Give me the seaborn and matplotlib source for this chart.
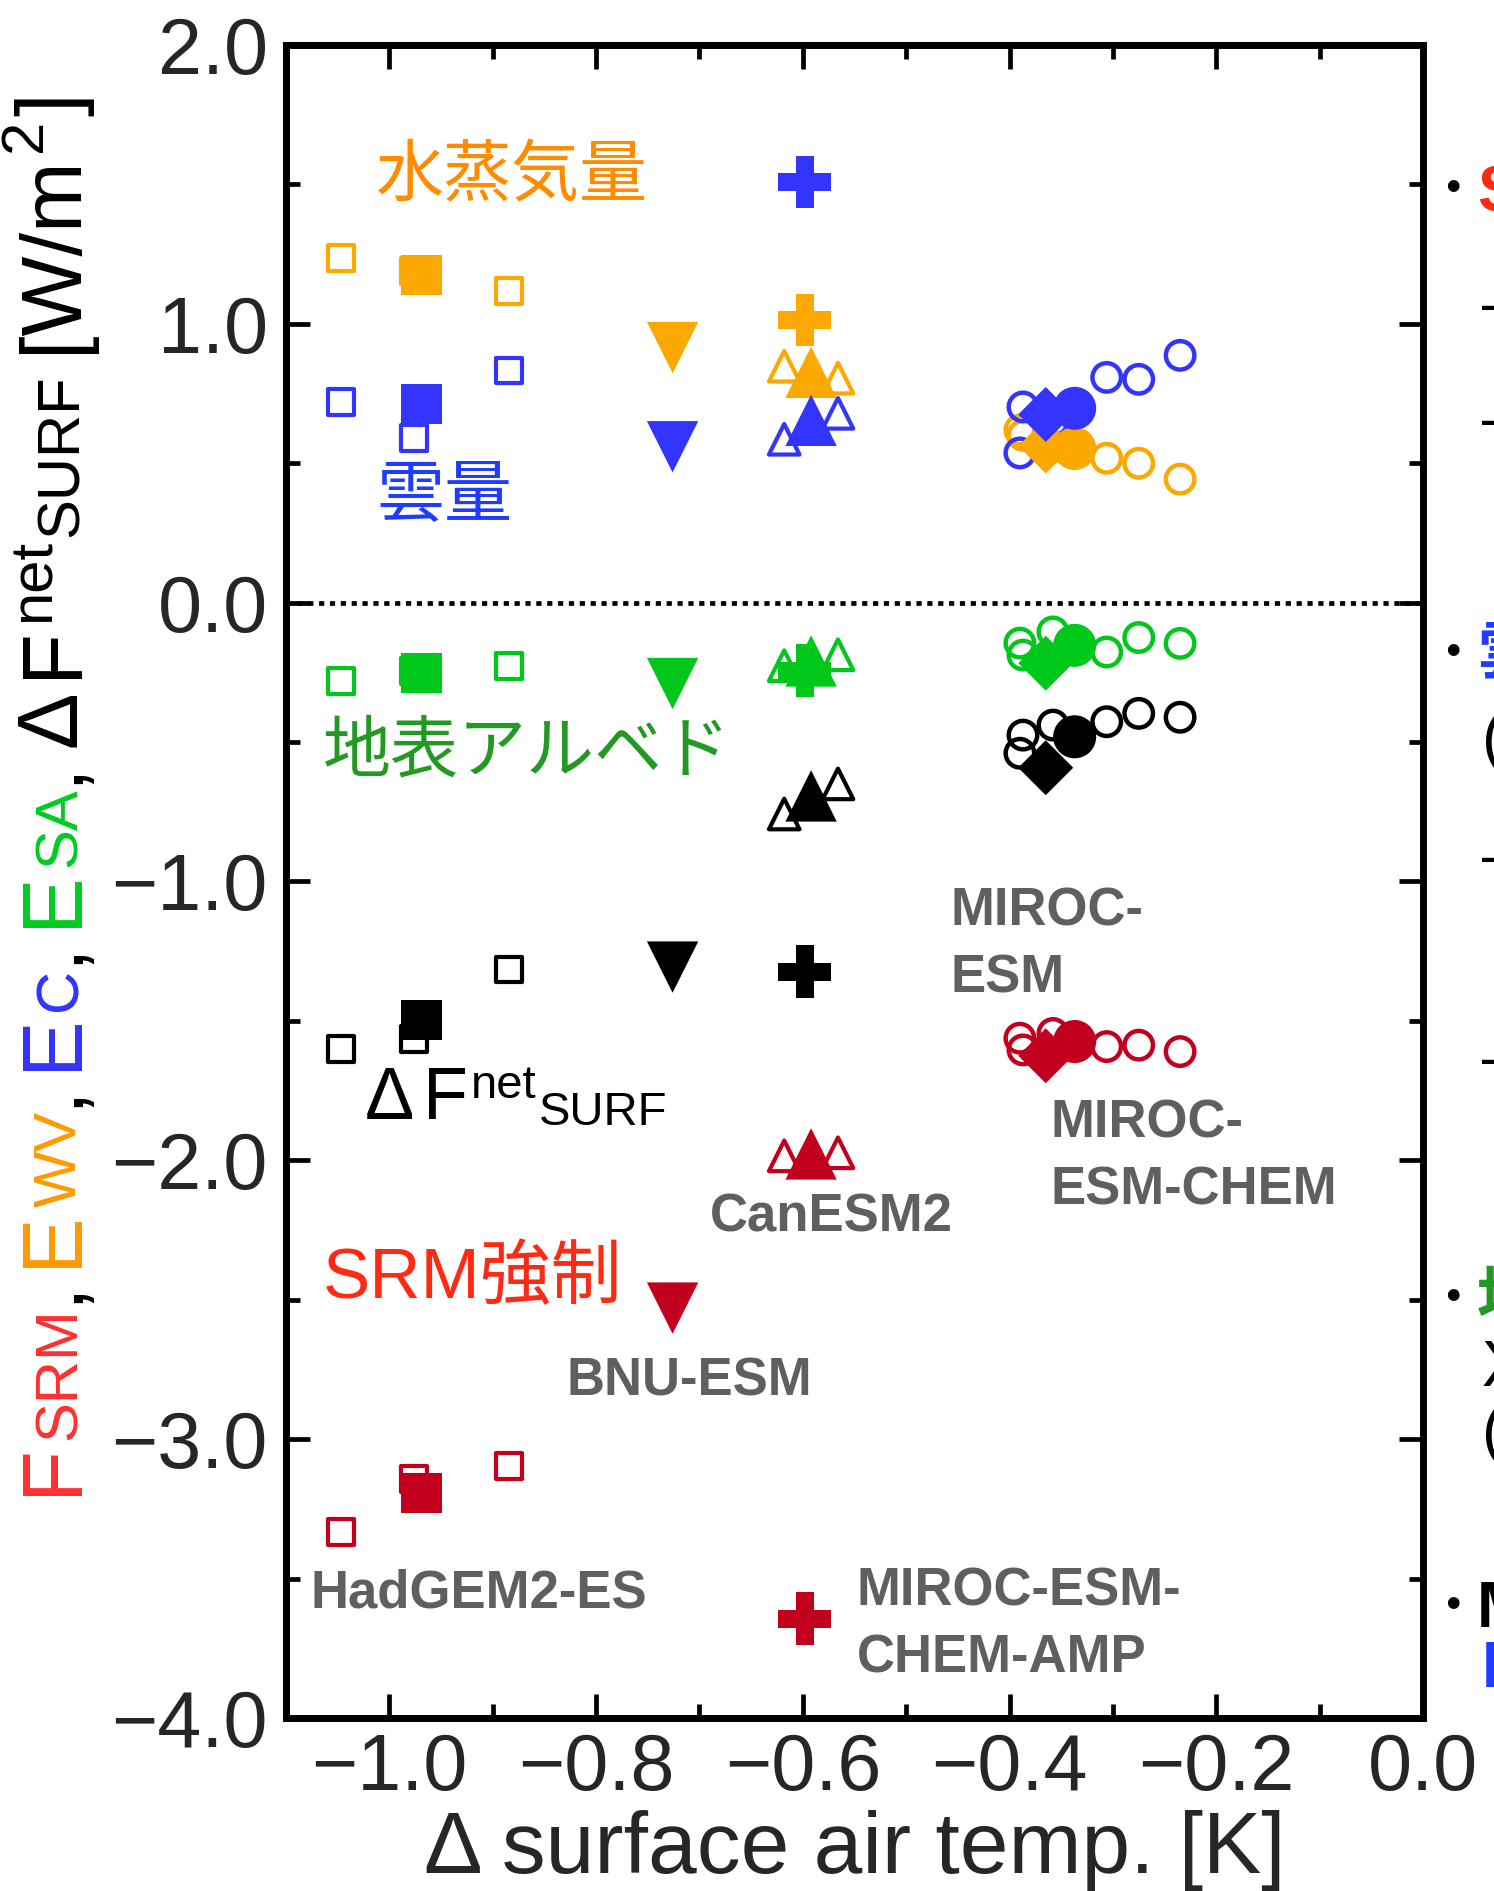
import numpy as np
import pandas as pd
import matplotlib
matplotlib.use("Agg")
import matplotlib.pyplot as plt
import seaborn as sns
from matplotlib.ticker import MultipleLocator

# ---------------- data ----------------
VARIABLES = ["SRM", "WV", "C", "SA", "NET"]

HADGEM_T_MEAN = -0.969
HADGEM_MEAN = [-3.192, 1.174, 0.712, -0.252, -1.497]
HADGEM_T_RUNS = [-1.047, -0.976, -0.884]
HADGEM_SRM_RUNS = [-3.334, -3.144, -3.097]
HADGEM_WV_RUNS = [1.235, 1.190, 1.118]
HADGEM_C_RUNS = [0.720, 0.591, 0.833]
HADGEM_SA_RUNS = [-0.282, -0.245, -0.226]
HADGEM_NET_RUNS = [-1.601, -1.566, -1.316]

BNU_T_MEAN = -0.726
BNU_MEAN = [-2.530, 0.915, 0.559, -0.290, -1.307]

CAN_T_MEAN = -0.592
CAN_MEAN = [-1.977, 0.826, 0.654, -0.209, -0.693]
CAN_T_RUNS = [-0.618, -0.566]
CAN_SRM_RUNS = [-1.984, -1.973]
CAN_WV_RUNS = [0.848, 0.805]
CAN_C_RUNS = [0.586, 0.679]
CAN_SA_RUNS = [-0.226, -0.187]
CAN_NET_RUNS = [-0.758, -0.650]

AMP_T_MEAN = -0.598
AMP_MEAN = [-3.644, 1.014, 1.509, -0.244, -1.324]

ESM_T_MEAN = -0.337
ESM_MEAN = [-1.574, 0.553, 0.697, -0.153, -0.481]

CHEM_T_MEAN = -0.365
CHEM_MEAN = [-1.625, 0.562, 0.675, -0.217, -0.592]

MIROC_T_RUNS = [-0.390, -0.387, -0.358, -0.306, -0.275, -0.235]
MIROC_SRM_RUNS = [-1.562, -1.604, -1.545, -1.592, -1.587, -1.610]
MIROC_WV_RUNS = [0.619, 0.600, 0.560, 0.518, 0.500, 0.443]
MIROC_C_RUNS = [0.537, 0.702, 0.650, 0.808, 0.801, 0.887]
MIROC_SA_RUNS = [-0.145, -0.188, -0.105, -0.177, -0.125, -0.146]
MIROC_NET_RUNS = [-0.540, -0.475, -0.439, -0.427, -0.397, -0.411]

X_TICKS = [-1.0, -0.8, -0.6, -0.4, -0.2, 0.0]
X_TICK_LABELS = ["\u22121.0", "\u22120.8", "\u22120.6", "\u22120.4", "\u22120.2", "0.0"]
Y_TICKS = [2.0, 1.0, 0.0, -1.0, -2.0, -3.0, -4.0]
Y_TICK_LABELS = ["2.0", "1.0", "0.0", "\u22121.0", "\u22122.0", "\u22123.0", "\u22124.0"]

# ---------------- long table ----------------
rows = []


def add_mean(model, t, vals):
    for var, val in zip(VARIABLES, vals):
        rows.append(dict(model=model, kind="mean", var=var, temp=t, value=val))


def add_runs(model, ts, runs):
    for var, arr in zip(VARIABLES, runs):
        for t, val in zip(ts, arr):
            rows.append(dict(model=model, kind="run", var=var, temp=t, value=val))


add_runs("HadGEM2-ES", HADGEM_T_RUNS, [HADGEM_SRM_RUNS, HADGEM_WV_RUNS, HADGEM_C_RUNS,
                                       HADGEM_SA_RUNS, HADGEM_NET_RUNS])
add_mean("HadGEM2-ES", HADGEM_T_MEAN, HADGEM_MEAN)
add_mean("BNU-ESM", BNU_T_MEAN, BNU_MEAN)
add_runs("CanESM2", CAN_T_RUNS, [CAN_SRM_RUNS, CAN_WV_RUNS, CAN_C_RUNS, CAN_SA_RUNS, CAN_NET_RUNS])
add_mean("CanESM2", CAN_T_MEAN, CAN_MEAN)
add_mean("MIROC-ESM-CHEM-AMP", AMP_T_MEAN, AMP_MEAN)
add_runs("MIROC", MIROC_T_RUNS, [MIROC_SRM_RUNS, MIROC_WV_RUNS, MIROC_C_RUNS,
                                 MIROC_SA_RUNS, MIROC_NET_RUNS])
add_mean("MIROC-ESM", ESM_T_MEAN, ESM_MEAN)
add_mean("MIROC-ESM-CHEM", CHEM_T_MEAN, CHEM_MEAN)
df = pd.DataFrame(rows)

# ---------------- style ----------------
sns.set_style("ticks")
LATIN = ["Liberation Sans", "DejaVu Sans"]
CJK = ["Liberation Sans", "Noto Sans CJK JP", "DejaVu Sans"]
plt.rcParams["font.family"] = LATIN

MARK_COL = {"SRM": "#C2001E", "WV": "#FBA800", "C": "#3434FF", "SA": "#00C81A", "NET": "#000000"}
# (model, kind) -> marker, size(pt), edge width
MARK_STYLE = {
    ("HadGEM2-ES", "run"): ("s", 18.5, 3.0),
    ("HadGEM2-ES", "mean"): ("s", 29.0, 0),
    ("BNU-ESM", "mean"): ("v", 37.0, 0),
    ("CanESM2", "run"): ("^", 22.0, 3.0),
    ("CanESM2", "mean"): ("^", 37.0, 0),
    ("MIROC-ESM-CHEM-AMP", "mean"): ("P", 38.0, 0),
    ("MIROC", "run"): ("o", 20.5, 3.2),
    ("MIROC-ESM", "mean"): ("o", 31.0, 0),
    ("MIROC-ESM-CHEM", "mean"): ("D", 28.0, 0),
}

W, H = 1494, 1891
fig = plt.figure(figsize=(W / 100, H / 100), dpi=100)
ax = fig.add_axes([286 / W, 1 - 1718 / H, 1137 / W, 1673 / H])

ax.axhline(0.0, color="black", lw=3.4, ls=(0, (1.1, 1.2)), zorder=0.5)

for var in ["SRM", "NET", "SA", "WV", "C"]:
    for (model, kind), (mk, ms, lw) in MARK_STYLE.items():
        sub = df[(df["var"] == var) & (df["model"] == model) & (df["kind"] == kind)]
        if sub.empty:
            continue
        if kind == "run":
            sns.scatterplot(data=sub, x="temp", y="value", marker=mk, s=ms ** 2,
                            color=MARK_COL[var], facecolors="none",
                            edgecolor=MARK_COL[var], linewidth=lw, legend=False,
                            ax=ax, zorder=2)
        else:
            sns.scatterplot(data=sub, x="temp", y="value", marker=mk, s=ms ** 2,
                            color=MARK_COL[var], edgecolor="none", linewidth=0,
                            legend=False, ax=ax, zorder=3)

ax.set_xlim(-1.1, 0.0)
ax.set_ylim(-4.0, 2.0)
ax.set_xticks(X_TICKS, X_TICK_LABELS)
ax.set_yticks(Y_TICKS, Y_TICK_LABELS)
ax.xaxis.set_minor_locator(MultipleLocator(0.1))
ax.yaxis.set_minor_locator(MultipleLocator(0.5))
ax.tick_params(which="both", direction="in", top=True, right=True, width=3.4, color="black")
ax.tick_params(which="major", length=17, labelsize=57)
ax.tick_params(which="minor", length=10)
ax.tick_params(axis="x", which="major", pad=10)
ax.tick_params(axis="y", which="major", pad=13)
for sp in ax.spines.values():
    sp.set_linewidth(5.0)
    sp.set_color("black")

ax.set_xlabel("\u0394 surface air temp. [K]", fontsize=63, labelpad=2)
ax.set_ylabel("")

renderer = fig.canvas.get_renderer()


def text_run(x0, y0_top, pieces, vertical=False):
    """Place consecutive text pieces (figure pixels, y measured from top)."""
    pos = 0.0
    y0 = H - y0_top
    for p in pieces:
        size = p["size"]
        rise = p.get("rise", 0.0) * size * 100 / 72.0
        pos += p.get("pre", 0.0)
        if vertical:
            xp, yp = x0 - rise, y0 + pos
        else:
            xp, yp = x0 + pos, y0 + rise
        t = fig.text(xp / W, yp / H, p["t"], rotation=90 if vertical else 0,
                     rotation_mode="anchor", ha="left", va="baseline",
                     fontsize=size, color=p.get("color", "black"),
                     family=p.get("family", LATIN), fontweight=p.get("weight", "normal"))
        bb = t.get_window_extent(renderer)
        pos += (bb.height if vertical else bb.width) + p.get("post", 0.0)


# ---- multi-coloured y label ----
L, S = 61, 43
YL_RED, YL_OR, YL_BL, YL_GR = "#FF3030", "#FF9900", "#3333FF", "#00CC22"
ylabel_pieces = [
    dict(t="F", size=L, color=YL_RED, post=3),
    dict(t="SRM", size=S, color=YL_RED, post=4),
    dict(t=",", size=L, post=13),
    dict(t="E", size=L, color=YL_OR, post=3),
    dict(t="WV", size=S, color=YL_OR, post=4),
    dict(t=",", size=L, post=13),
    dict(t="E", size=L, color=YL_BL, post=3),
    dict(t="C", size=S, color=YL_BL, post=4),
    dict(t=",", size=L, post=13),
    dict(t="E", size=L, color=YL_GR, post=3),
    dict(t="SA", size=S, color=YL_GR, post=4),
    dict(t=",", size=L, post=13),
    dict(t="\u0394", size=L, post=12),
    dict(t="F", size=L, post=4),
    dict(t="net", size=S, rise=0.45, post=2),
    dict(t="SURF", size=S, rise=-0.03, post=22),
    dict(t="[W/m", size=L, post=3),
    dict(t="2", size=S, rise=0.58, post=3),
    dict(t="]", size=L),
]
text_run(76, 1495, ylabel_pieces, vertical=True)

# ---- annotations inside the axes ----
fig.text(376 / W, 1 - 177 / H, "水蒸気量", color="#FF8C00", fontsize=49, family=CJK,
         ha="left", va="center")
fig.text(376 / W, 1 - 497 / H, "雲量", color="#1F3CFF", fontsize=49, family=CJK,
         ha="left", va="center")
fig.text(323 / W, 1 - 754 / H, "地表アルベド", color="#229922", fontsize=49, family=CJK,
         ha="left", va="center")
fig.text(323 / W, 1 - 1280 / H, "SRM強制", color="#FF2A14", fontsize=51, family=CJK,
         ha="left", va="center")

text_run(365, 1119, [
    dict(t="\u0394", size=53, post=9),
    dict(t="F", size=53, post=3),
    dict(t="net", size=34, rise=0.45, post=2),
    dict(t="SURF", size=34, rise=-0.12),
])

GRAY = "#5F5F5F"
MODEL_LABELS = [
    ("MIROC-\nESM", 951, 945),
    ("MIROC-\nESM-CHEM", 1050, 1157),
    ("CanESM2", 710, 1218),
    ("BNU-ESM", 567, 1382),
    ("HadGEM2-ES", 311, 1593),
    ("MIROC-ESM-\nCHEM-AMP", 857, 1625),
]
for txt, xl, yc in MODEL_LABELS:
    fig.text(xl / W, 1 - yc / H, txt, color=GRAY, fontsize=38, fontweight="bold",
             family=LATIN, ha="left", va="center", linespacing=1.42)

# ---- neighbouring panel, cut by the figure edge ----
BULLETS = [(193, "SRM強制", "#FF2A14"), (657, "雲量", "#1F3CFF"),
           (1302, "地表アルベド", "#229922"), (1610, "MIROC", "black")]
for yc, txt, col in BULLETS:
    fig.text(1453 / W, 1 - yc / H, "\u30fb", fontsize=40, family=CJK, ha="center",
             va="center", color="black")
    fig.text(1477 / W, 1 - yc / H, txt, fontsize=46, family=CJK, ha="left",
             va="center", color=col, fontweight="bold")
for yc, txt, col in [(307, "\u2014", "black"), (422, "\u2014", "black"),
                     (742, "(", "black"), (859, "\u2014", "black"),
                     (1061, "\u2014", "black"), (1369, "X", "black"),
                     (1435, "(", "black"), (1670, "E", "#1F3CFF")]:
    fig.text(1482 / W, 1 - yc / H, txt, fontsize=46, family=CJK, ha="left",
             va="center", color=col, fontweight="bold" if txt == "E" else "normal")

fig.savefig("out.png", dpi=100)
